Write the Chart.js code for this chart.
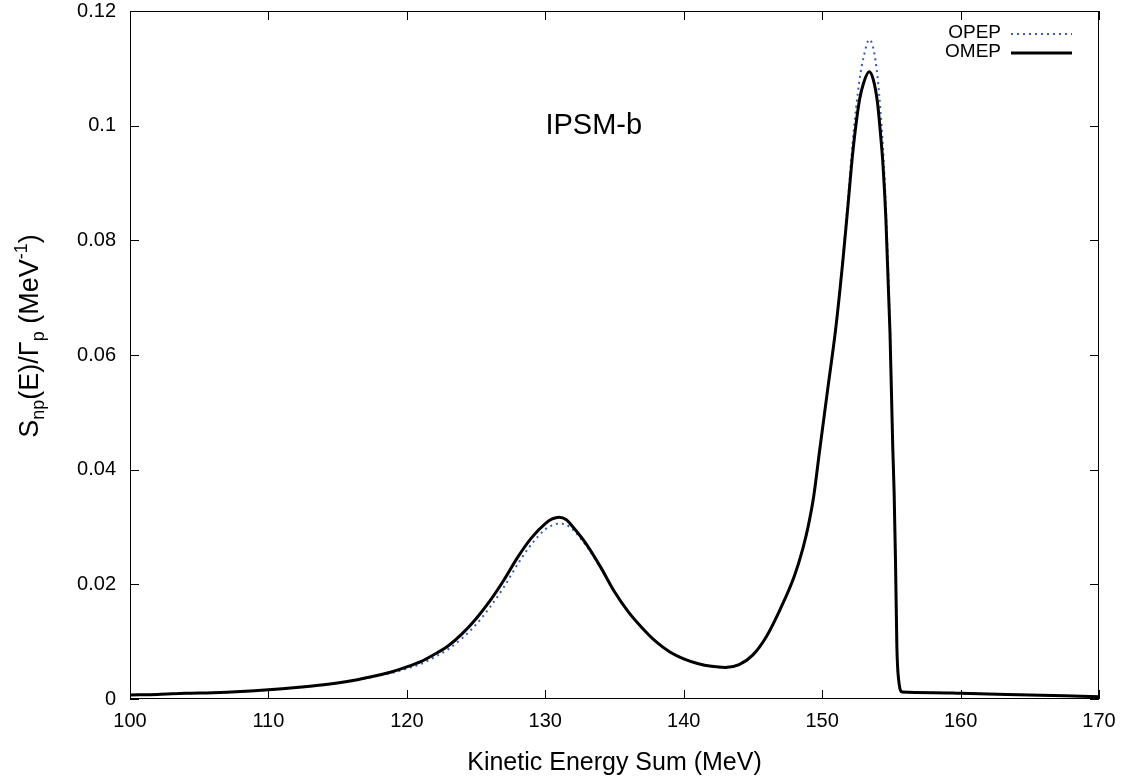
<!DOCTYPE html>
<html lang="en">
<head>
    <meta charset="UTF-8">
    <title>IPSM-b np spectrum</title>
    <script src="https://cdn.jsdelivr.net/npm/chart.js"></script>
    <style>
        body { margin: 0; background: #fff; }
        canvas { display: block; }
    </style>
</head>
<body>
    <canvas id="spectrum" width="1124" height="782"></canvas>
    <script>
        // kinetic energy sum (MeV)
        var energy = [100, 102, 104, 106, 108, 110, 112, 114, 116, 118, 119, 120, 121, 122, 123, 124, 125, 126, 127, 128,
            129, 130, 130.5, 131, 131.5, 132, 133, 134, 135, 136, 137, 138, 139, 140, 141, 142, 143, 144, 145, 146,
            147, 148, 148.6, 149, 149.4, 149.8, 150.4, 151, 151.5, 151.9, 152.2, 152.7, 153, 153.4, 153.7, 154,
            154.2, 154.4, 154.6, 154.9, 155.1, 155.2, 155.3, 155.4, 155.52, 155.8, 158, 160, 165, 170];

        // S_np(E)/Gamma_p, one-meson-exchange potential
        var omep = [0.0007, 0.0008, 0.0010, 0.0011, 0.0013, 0.0016, 0.0020, 0.0025, 0.0032, 0.0042, 0.0048, 0.0056, 0.0065, 0.0078, 0.0093, 0.0114, 0.0140, 0.0171, 0.0207, 0.0247,
            0.0281, 0.0306, 0.0314, 0.0317, 0.0313, 0.0300, 0.0269, 0.0230, 0.0187, 0.0152, 0.0124, 0.0100, 0.0082, 0.0070, 0.0062, 0.0057, 0.0055, 0.0060, 0.0077, 0.0110,
            0.0158, 0.0215, 0.0262, 0.0302, 0.0355, 0.0430, 0.0540, 0.0650, 0.0765, 0.0870, 0.0950, 0.1045, 0.1075, 0.1094, 0.1080, 0.1040,
            0.0990, 0.0930, 0.0840, 0.0640, 0.0440, 0.0360, 0.0240, 0.0090, 0.0035, 0.0012, 0.0011, 0.0010, 0.0007, 0.0004];

        // S_np(E)/Gamma_p, one-pion-exchange potential
        var opep = [0.0007, 0.0008, 0.0010, 0.0011, 0.0013, 0.0016, 0.0020, 0.0025, 0.0031, 0.0041, 0.0046, 0.0053, 0.0061, 0.0073, 0.0087, 0.0106, 0.0130, 0.0160, 0.0195, 0.0235,
            0.0270, 0.0296, 0.0303, 0.0306, 0.0304, 0.0295, 0.0266, 0.0228, 0.0187, 0.0152, 0.0124, 0.0100, 0.0082, 0.0070, 0.0062, 0.0057, 0.0055, 0.0060, 0.0077, 0.0110,
            0.0158, 0.0215, 0.0262, 0.0302, 0.0355, 0.0430, 0.0540, 0.0650, 0.0770, 0.0880, 0.0970, 0.1080, 0.1120, 0.1150, 0.1135, 0.1085,
            0.1030, 0.0960, 0.0860, 0.0650, 0.0445, 0.0360, 0.0240, 0.0090, 0.0035, 0.0012, 0.0011, 0.0010, 0.0007, 0.0004];

        var xTicks = [100, 110, 120, 130, 140, 150, 160, 170];
        var yTicks = [0, 0.02, 0.04, 0.06, 0.08, 0.1, 0.12];

        var FONT = '"Liberation Sans", Arial, Helvetica, sans-serif';

        function points(ys) {
            return energy.map(function (e, i) { return { x: e, y: ys[i] }; });
        }

        // frame, inward ticks (gnuplot style), legend, labels
        var decor = {
            id: 'decor',
            afterDraw: function (chart) {
                var ctx = chart.ctx;
                var a = chart.chartArea;
                var sx = chart.scales.x, sy = chart.scales.y;
                var tl = 9;
                ctx.save();
                ctx.strokeStyle = '#000';
                ctx.lineWidth = 1;
                ctx.strokeRect(a.left + 0.5, a.top + 0.5, a.right - a.left - 1, a.bottom - a.top - 1);
                ctx.beginPath();
                xTicks.forEach(function (v) {
                    var px = Math.round(sx.getPixelForValue(v)) + 0.5;
                    ctx.moveTo(px, a.bottom); ctx.lineTo(px, a.bottom - tl);
                    ctx.moveTo(px, a.top); ctx.lineTo(px, a.top + tl);
                });
                yTicks.forEach(function (v) {
                    var py = Math.round(sy.getPixelForValue(v)) + 0.5;
                    ctx.moveTo(a.left, py); ctx.lineTo(a.left + tl, py);
                    ctx.moveTo(a.right, py); ctx.lineTo(a.right - tl, py);
                });
                ctx.stroke();

                // legend: text right-aligned, sample line after it
                ctx.font = '19px ' + FONT;
                ctx.fillStyle = '#000';
                ctx.textAlign = 'right';
                ctx.textBaseline = 'middle';
                chart.data.datasets.forEach(function (ds, i) {
                    var y = a.top + 22 + i * 19;
                    ctx.fillText(ds.label, a.right - 98, y);
                    ctx.beginPath();
                    ctx.strokeStyle = ds.borderColor;
                    ctx.lineWidth = ds.borderWidth;
                    ctx.setLineDash(ds.borderDash || []);
                    ctx.moveTo(a.right - 88, y + 1);
                    ctx.lineTo(a.right - 27, y + 1);
                    ctx.stroke();
                });
                ctx.setLineDash([]);

                // model label
                ctx.font = '29px ' + FONT;
                ctx.textAlign = 'center';
                ctx.textBaseline = 'alphabetic';
                ctx.fillStyle = '#000';
                ctx.fillText('IPSM-b', sx.getPixelForValue(133.5), sy.getPixelForValue(0.0985));

                // y axis title with sub/superscripts
                var parts = [
                    { t: 'S', k: 0 }, { t: 'np', k: 1 }, { t: '(E)/\u0393', k: 0 }, { t: 'p', k: 1 },
                    { t: ' (MeV', k: 0 }, { t: '-1', k: 2 }, { t: ')', k: 0 }
                ];
                var big = 27, small = 18;
                var total = 0;
                parts.forEach(function (p) {
                    ctx.font = (p.k ? small : big) + 'px ' + FONT;
                    p.w = ctx.measureText(p.t).width;
                    total += p.w;
                });
                ctx.translate(38, 336);
                ctx.rotate(-Math.PI / 2);
                ctx.textAlign = 'left';
                var x = -total / 2;
                parts.forEach(function (p) {
                    ctx.font = (p.k ? small : big) + 'px ' + FONT;
                    var dy = p.k === 1 ? 6 : (p.k === 2 ? -11 : 0);
                    ctx.fillText(p.t, x, dy);
                    x += p.w;
                });
                ctx.restore();
            }
        };

        function noPad(s) {
            s.paddingTop = 0; s.paddingBottom = 0; s.paddingLeft = 0; s.paddingRight = 0;
        }

        new Chart(document.getElementById('spectrum').getContext('2d'), {
            type: 'line',
            data: {
                datasets: [{
                    label: 'OPEP',
                    data: points(opep),
                    borderColor: '#3a5cb4',
                    borderWidth: 2,
                    borderDash: [2, 4],
                    pointRadius: 0,
                    cubicInterpolationMode: 'monotone',
                    order: 2
                }, {
                    label: 'OMEP',
                    data: points(omep),
                    borderColor: '#000',
                    borderWidth: 3,
                    pointRadius: 0,
                    cubicInterpolationMode: 'monotone',
                    order: 1
                }]
            },
            options: {
                responsive: false,
                animation: false,
                devicePixelRatio: 1,
                layout: { padding: { top: 11, right: 25, left: 0, bottom: 0 } },
                plugins: { legend: { display: false }, tooltip: { enabled: false } },
                scales: {
                    x: {
                        type: 'linear', min: 100, max: 170,
                        grid: { display: false, drawTicks: false },
                        border: { display: false },
                        afterBuildTicks: function (s) { s.ticks = xTicks.map(function (v) { return { value: v }; }); },
                        afterFit: function (s) { s.height = 83; noPad(s); },
                        ticks: { color: '#000', font: { size: 20, family: FONT }, padding: 10, maxRotation: 0, autoSkip: false },
                        title: {
                            display: true, text: 'Kinetic Energy Sum (MeV)', color: '#000',
                            font: { size: 25, family: FONT }, padding: { top: 0, bottom: 4 }
                        }
                    },
                    y: {
                        min: 0, max: 0.12,
                        grid: { display: false, drawTicks: false },
                        border: { display: false },
                        afterBuildTicks: function (s) { s.ticks = yTicks.map(function (v) { return { value: v }; }); },
                        afterFit: function (s) { s.width = 130; noPad(s); },
                        ticks: {
                            color: '#000', font: { size: 20, family: FONT }, padding: 14,
                            callback: function (v) { return String(v); }
                        }
                    }
                }
            },
            plugins: [decor]
        });
    </script>
</body>
</html>
